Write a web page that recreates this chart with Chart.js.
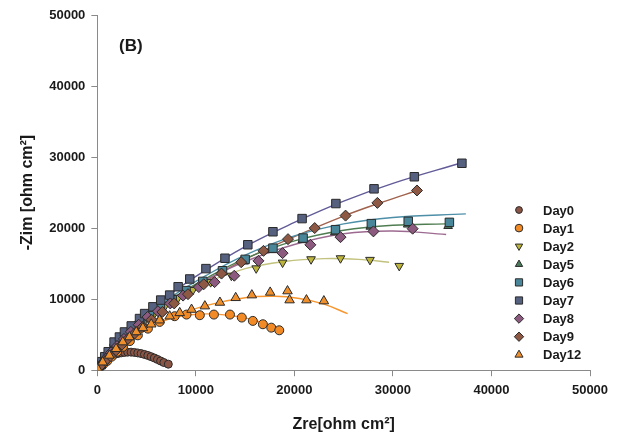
<!DOCTYPE html>
<html>
<head>
<meta charset="utf-8">
<title>Nyquist plot (B)</title>
<script src="https://cdn.jsdelivr.net/npm/chart.js@4.4.0/dist/chart.umd.min.js"></script>
<style>
html, body { margin: 0; padding: 0; background: #fff; }
</style>
</head>
<body>
<canvas id="myChart" width="620" height="438"></canvas>
<script>
var day0Zre = [40,120,250,400,580,780,1000,1250,1520,1800,2100,2420,2750,3080,3420,3760,4100,4440,4780,5120,5450,5780,6100,6420,6750,7200];
var day0Zim = [150,420,720,1000,1260,1500,1720,1920,2090,2240,2360,2440,2500,2540,2540,2500,2430,2340,2220,2080,1910,1720,1520,1300,1080,850];
var day1Zre = [60,250,600,1000,1450,2000,2600,3300,4110,5130,6320,7850,9050,10400,11830,13460,14660,15780,16800,17650,18460];
var day1Zim = [90,380,820,1300,1900,2600,3300,4100,4910,5850,6800,7600,7830,7740,7830,7830,7410,6940,6470,5990,5620];
var day2Zre = [100,350,750,1250,1800,2400,3100,3900,4800,5800,6900,8200,9700,11500,13600,16120,18800,21690,24680,27670,30640];
var day2Zim = [150,600,1300,2100,3000,3900,4900,5900,6900,8000,9100,10200,11300,12400,13300,14340,15150,15620,15760,15530,14680];
var day5Zre = [120,350,700,1100,1600,2200,2800,3500,4300,5200,6300,7500,8900,10600,12600,14900,17700,20800,24100,27700,31500,35600];
var day5Zim = [250,700,1400,2100,2900,3800,4600,5500,6500,7500,8600,9700,11000,12300,13800,15300,16900,18300,19400,20200,20500,20300];
var day6Zre = [150,400,750,1200,1700,2300,2900,3600,4400,5300,6400,7600,9000,10700,12700,15000,17820,20880,24170,27810,31550,35730];
var day6Zim = [300,800,1500,2300,3100,4000,4800,5700,6700,7700,8800,9900,11200,12500,14000,15600,17180,18600,19780,20630,20960,20810];
var day7Zre = [200,450,750,1100,1700,2240,2750,3440,4280,4800,5640,6430,7340,8200,9380,11020,12950,15270,17820,20780,24210,28080,32170,37000];
var day7Zim = [600,1200,1900,2600,3960,4670,5380,6230,7270,7970,8920,9870,10570,11750,12840,14300,15760,17660,19490,21340,23460,25530,27230,29130];
var day8Zre = [150,450,900,1400,2000,2700,3400,4200,5100,6150,7400,8700,10300,11900,13900,16350,18800,21620,24680,28020,32000];
var day8Zim = [300,900,1700,2500,3400,4400,5400,6400,7500,8300,9400,10500,11700,12400,13300,15390,16480,17650,18730,19540,19920];
var day9Zre = [120,400,800,1300,1900,2500,3100,3800,4600,5500,6600,7800,9200,10800,12600,14600,16860,19350,22060,25190,28420,32440];
var day9Zim = [250,700,1300,2000,2800,3600,4400,5200,6100,7100,8200,9400,10700,12100,13600,15200,16800,18450,20010,21760,23550,25300];
var day12Zre = [30,540,1220,1900,2580,3260,3950,4620,5470,6320,7340,8360,9560,10910,12440,14040,15680,17540,19300,19510,21220,22990];
var day12Zim = [180,1130,2080,3020,3960,4670,5380,5950,6470,7040,7600,8070,8540,9020,9530,10190,10570,10950,11140,9870,9870,9730];

// fitted curves (equivalent circuit fit)
var day0FitZre = [0,600,1500,2800,4200,5500,6500,7300];
var day0FitZim = [0,1200,2100,2550,2450,1950,1350,750];
var day1FitZre = [0,1000,2500,4500,7000,9500,12000,14500,16500,18800];
var day1FitZim = [0,1500,3200,5300,7100,7800,7900,7500,6800,5500];
var day2FitZre = [0,1500,4000,7500,11000,15000,19000,23000,26500,29600];
var day2FitZim = [0,2500,6000,9600,12300,14300,15300,15700,15600,15200];
var day5FitZre = [0,1500,4000,7500,11000,15000,20000,25000,30000,35300];
var day5FitZim = [0,2900,6300,10000,12900,15700,18200,19700,20400,20600];
var day6FitZre = [0,1500,4000,7500,11000,15000,20000,25000,30000,37400];
var day6FitZim = [0,3000,6500,10300,13300,16200,18900,20600,21500,22000];
var day7FitZre = [0,1000,3000,6000,10000,15000,20000,25000,30000,37000];
var day7FitZim = [0,2400,5800,9300,13200,17400,20800,23800,26300,29200];
var day8FitZre = [0,1500,4000,7500,11000,15000,20000,25000,30000,35400];
var day8FitZim = [0,2800,6200,9900,12700,15300,17700,19200,19600,19100];
var day9FitZre = [0,1500,4000,7500,11000,15000,20000,25000,29000,32500];
var day9FitZim = [0,2600,5800,9600,12500,15600,18800,21700,23700,25300];
var day12FitZre = [0,1500,4000,7500,11000,15000,18000,20500,23000,25400];
var day12FitZim = [0,2300,5000,7400,9100,10200,10400,10100,9300,7950];

var axisTicks = [0,10000,20000,30000,40000,50000];

function pts(xs, ys) {
  return xs.map(function(x, i) { return {x: x, y: ys[i]}; });
}

var FONT = "Arial, 'Liberation Sans', sans-serif";
Chart.defaults.font.family = FONT;

// lower order is drawn later (on top), so Day12 ends up over the rest
function marker(label, xs, ys, color, style, r, rot, ord) {
  return {
    label: label,
    data: pts(xs, ys),
    backgroundColor: color,
    borderColor: '#2b2b2b',
    borderWidth: 1,
    pointStyle: style,
    pointRadius: r,
    pointRotation: rot || 0,
    showLine: false,
    order: ord
  };
}
function fitLine(xs, ys, color) {
  return {
    label: '',
    isFit: true,
    data: pts(xs, ys),
    borderColor: color,
    borderWidth: 1.4,
    pointRadius: 0,
    showLine: true,
    tension: 0.4,
    fill: false,
    order: 20
  };
}

var datasets = [
  marker('Day0', day0Zre, day0Zim, '#8b5546', 'circle', 4, 0, 10),
  marker('Day1', day1Zre, day1Zim, '#f28a26', 'circle', 4.5, 0, 9),
  marker('Day2', day2Zre, day2Zim, '#bdb43c', 'triangle', 5, 180, 8),
  marker('Day5', day5Zre, day5Zim, '#4a7b5a', 'triangle', 5, 0, 7),
  marker('Day6', day6Zre, day6Zim, '#4a8699', 'rect', 6, 0, 6),
  marker('Day7', day7Zre, day7Zim, '#566180', 'rect', 6, 0, 5),
  marker('Day8', day8Zre, day8Zim, '#8c5a7e', 'rectRot', 5.5, 0, 4),
  marker('Day9', day9Zre, day9Zim, '#8d5844', 'rectRot', 5.5, 0, 3),
  marker('Day12', day12Zre, day12Zim, '#f0902c', 'triangle', 5.5, 0, 2),
  fitLine(day0FitZre, day0FitZim, '#8b5546'),
  fitLine(day1FitZre, day1FitZim, '#f5963a'),
  fitLine(day2FitZre, day2FitZim, '#c2c27e'),
  fitLine(day5FitZre, day5FitZim, '#4f7d52'),
  fitLine(day6FitZre, day6FitZim, '#4e8fa8'),
  fitLine(day7FitZre, day7FitZim, '#615b98'),
  fitLine(day8FitZre, day8FitZim, '#9c6a90'),
  fitLine(day9FitZre, day9FitZim, '#a0624c'),
  fitLine(day12FitZre, day12FitZim, '#f7962e')
];

// legend sits inside the plot, right side
var sideLegend = {
  id: 'sideLegend',
  afterDraw: function(chart) {
    var ctx = chart.ctx;
    var x0 = 519, y0 = 210, step = 18.1;
    var n = 0;
    ctx.save();
    ctx.font = 'bold 13px ' + FONT;
    ctx.textBaseline = 'middle';
    chart.data.datasets.forEach(function(ds) {
      if (ds.isFit) return;
      var y = y0 + n * step;
      ctx.fillStyle = ds.backgroundColor;
      ctx.strokeStyle = ds.borderColor;
      ctx.lineWidth = 1;
      Chart.helpers.drawPoint(ctx, {
        pointStyle: ds.pointStyle,
        rotation: ds.pointRotation,
        radius: ds.pointRadius * 0.85,
        borderWidth: 1
      }, x0, y);
      ctx.fillStyle = '#1a1a1a';
      ctx.fillText(ds.label, 543, y + 1);
      n++;
    });
    ctx.font = 'bold 17px ' + FONT;
    ctx.fillText('(B)', 119, 46);
    ctx.restore();
  }
};

var ctx = document.getElementById('myChart').getContext('2d');
var myChart = new Chart(ctx, {
  type: 'scatter',
  data: { datasets: datasets },
  options: {
    responsive: false,
    animation: false,
    layout: { padding: { left: 18, right: 30, top: 15, bottom: 4 } },
    plugins: {
      legend: { display: false },
      tooltip: { enabled: false }
    },
    scales: {
      x: {
        type: 'linear',
        min: 0,
        max: 50000,
        afterBuildTicks: function(axis) {
          axis.ticks = axisTicks.map(function(v) { return {value: v}; });
        },
        ticks: {
          font: { size: 13, weight: 'bold' },
          color: '#1a1a1a',
          padding: 6,
          format: { useGrouping: false }
        },
        grid: { drawOnChartArea: false, drawTicks: true, tickLength: 6, color: '#8a8a8a' },
        border: { color: '#8a8a8a', width: 1 },
        title: {
          display: true,
          text: 'Zre[ohm cm²]',
          font: { size: 16, weight: 'bold' },
          color: '#1a1a1a',
          padding: { top: 11, bottom: 0 }
        }
      },
      y: {
        type: 'linear',
        min: 0,
        max: 50000,
        afterBuildTicks: function(axis) {
          axis.ticks = axisTicks.map(function(v) { return {value: v}; });
        },
        ticks: {
          font: { size: 13, weight: 'bold' },
          color: '#1a1a1a',
          padding: 6,
          format: { useGrouping: false }
        },
        grid: { drawOnChartArea: false, drawTicks: true, tickLength: 6, color: '#8a8a8a' },
        border: { color: '#8a8a8a', width: 1 },
        title: {
          display: true,
          text: '-Zim [ohm cm²]',
          font: { size: 16, weight: 'bold' },
          color: '#1a1a1a',
          padding: { top: 0, bottom: 6 }
        }
      }
    }
  },
  plugins: [sideLegend]
});
</script>
</body>
</html>
